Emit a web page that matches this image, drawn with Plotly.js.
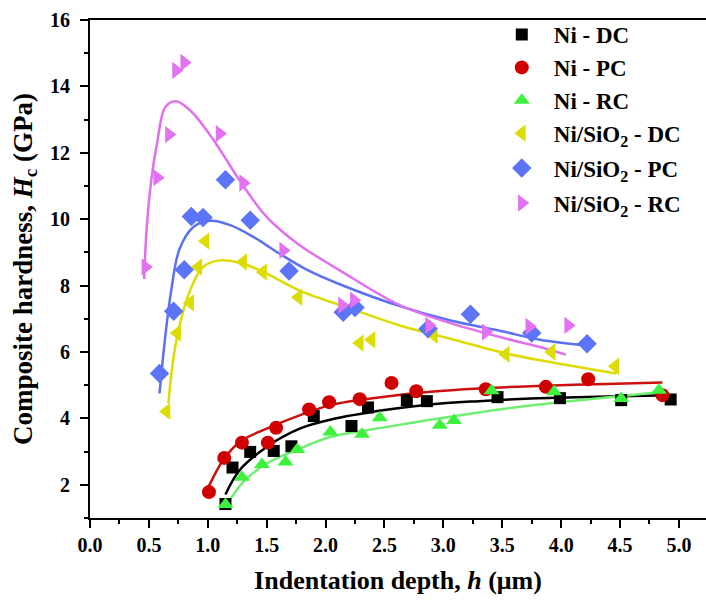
<!DOCTYPE html>
<html>
<head>
<meta charset="utf-8">
<script src="https://cdn.plot.ly/plotly-3.0.1.min.js"></script>
<style>html,body{margin:0;padding:0;background:#fff;}#chart{width:706px;height:601px;}</style>
</head>
<body>
<div id="chart"></div>
<script>
// Measured points (indentation depth h in µm, composite hardness Hc in GPa)
var niDC_h = [1.15,1.21,1.36,1.56,1.71,1.90,2.22,2.36,2.69,2.86,3.46,3.99,4.51,4.93];
var niDC_H = [1.42,2.52,2.99,3.02,3.16,4.07,3.77,4.33,4.55,4.52,4.64,4.61,4.55,4.57];
var niPC_h = [1.01,1.14,1.29,1.51,1.58,1.86,2.03,2.29,2.56,2.77,3.36,3.87,4.23,4.86];
var niPC_H = [1.78,2.81,3.27,3.27,3.72,4.27,4.49,4.58,5.07,4.82,4.88,4.95,5.18,4.70];
var niRC_h = [1.15,1.29,1.46,1.66,1.76,2.04,2.31,2.46,2.97,3.09,3.41,3.94,4.51,4.83];
var niRC_H = [1.41,2.23,2.61,2.69,3.06,3.59,3.52,4.02,3.79,3.94,4.83,4.80,4.60,4.85];
var siDC_h = [0.65,0.74,0.85,0.92,0.98,1.30,1.47,1.77,2.29,2.39,2.92,3.53,3.92,4.46];
var siDC_H = [4.21,6.57,7.48,8.56,9.34,8.71,8.41,7.65,6.27,6.37,6.50,5.93,6.00,5.57];
var siPC_h = [0.59,0.71,0.80,0.86,0.96,1.15,1.36,1.69,2.15,2.25,2.87,3.23,3.75,4.22];
var siPC_H = [5.35,7.23,8.48,10.08,10.05,11.19,9.97,8.44,7.20,7.34,6.70,7.14,6.57,6.25];
var siRC_h = [0.47,0.57,0.67,0.73,0.80,1.10,1.30,1.64,2.14,2.24,2.88,3.36,3.73,4.06];
var siRC_H = [8.56,11.25,12.55,14.48,14.72,12.58,11.09,9.06,7.41,7.56,6.80,6.60,6.77,6.80];

// Fitted curves
var fitNiDC_h = [1.15,1.27,1.50,1.78,2.04,2.50,2.89,3.30,3.74,4.30,4.90];
var fitNiDC_H = [1.71,2.44,3.14,3.69,3.96,4.25,4.42,4.52,4.60,4.65,4.70];
var fitNiPC_h = [1.005,1.13,1.27,1.50,1.78,2.04,2.50,2.89,3.30,3.74,4.30,4.86];
var fitNiPC_H = [1.93,2.74,3.29,3.69,4.09,4.40,4.65,4.80,4.90,4.97,5.03,5.08];
var fitNiRC_h = [1.15,1.30,1.50,1.78,2.04,2.50,2.89,3.30,3.74,4.30,4.83];
var fitNiRC_H = [1.33,2.08,2.64,3.09,3.44,3.73,3.96,4.18,4.39,4.60,4.79];
var fitSiDC_h = [0.665,0.70,0.75,0.85,0.96,1.10,1.30,1.50,1.78,2.21,2.63,3.06,3.48,3.82,4.47];
var fitSiDC_H = [4.45,5.60,6.65,7.86,8.56,8.76,8.66,8.36,7.85,7.31,6.80,6.40,6.00,5.75,5.35];
var fitSiPC_h = [0.59,0.64,0.69,0.76,0.88,1.02,1.19,1.39,1.61,1.84,2.12,2.63,3.06,3.48,3.82,4.22];
var fitSiPC_H = [4.75,6.50,7.86,9.10,9.77,9.95,9.82,9.46,8.96,8.48,8.04,7.38,6.95,6.64,6.37,6.20];
var fitSiRC_h = [0.46,0.48,0.52,0.57,0.64,0.73,0.85,1.05,1.27,1.50,1.76,2.12,2.63,3.06,3.48,3.82,4.04];
var fitSiRC_H = [8.20,9.67,11.17,12.30,13.38,13.55,13.28,12.38,11.17,10.07,9.27,8.46,7.41,6.87,6.45,6.15,5.92];

var names = ['Ni - DC','Ni - PC','Ni - RC','Ni/SiO<sub>2</sub> - DC','Ni/SiO<sub>2</sub> - PC','Ni/SiO<sub>2</sub> - RC'];
var groups = ['a','a','a','a','b','c'];

var series = [
  {h:niDC_h,H:niDC_H,fh:fitNiDC_h,fH:fitNiDC_H,sym:'square',size:12,mc:'#000000',lc:'#000000'},
  {h:niPC_h,H:niPC_H,fh:fitNiPC_h,fH:fitNiPC_H,sym:'circle',size:14,mc:'#d00000',lc:'#cc1010'},
  {h:niRC_h,H:niRC_H,fh:fitNiRC_h,fH:fitNiRC_H,sym:'triangle-up',size:14,mc:'#3cf23c',lc:'#70ee70'},
  {h:siDC_h,H:siDC_H,fh:fitSiDC_h,fH:fitSiDC_H,sym:'triangle-left',size:15,mc:'#dcdc00',lc:'#dcdc00'},
  {h:siPC_h,H:siPC_H,fh:fitSiPC_h,fH:fitSiPC_H,sym:'diamond',size:15,mc:'#5c74f6',lc:'#5c70f2'},
  {h:siRC_h,H:siRC_H,fh:fitSiRC_h,fH:fitSiRC_H,sym:'triangle-right',size:15,mc:'#e272f2',lc:'#e070ee'}
];

var traces = [];
series.forEach(function(s){
  traces.push({x:s.fh,y:s.fH,mode:'lines',line:{color:s.lc,width:2.5,shape:'spline',smoothing:1},showlegend:false,hoverinfo:'skip'});
});
series.forEach(function(s,i){
  traces.push({x:s.h,y:s.H,mode:'markers',name:names[i],legendgroup:groups[i],marker:{symbol:s.sym,size:s.size,color:s.mc,line:{width:0}}});
});

var font = 'Liberation Serif, Times New Roman, serif';
var layout = {
  width:706, height:601,
  margin:{l:90,r:0,t:20,b:83},
  paper_bgcolor:'#fff', plot_bgcolor:'#fff',
  font:{family:font,color:'#000'},
  showlegend:true,
  legend:{x:0.649,y:1.014,xanchor:'left',yanchor:'top',bgcolor:'rgba(0,0,0,0)',font:{family:font,size:23,color:'#000',weight:'bold'},itemwidth:54,traceorder:'grouped',tracegroupgap:2},
  xaxis:{range:[0,5.23],dtick:0.5,tick0:0,tickformat:'.1f',showgrid:false,zeroline:false,
    showline:true,linewidth:2,linecolor:'#000',mirror:true,
    ticks:'outside',ticklen:8,tickwidth:2,tickcolor:'#000',
    minor:{dtick:0.25,ticks:'outside',ticklen:4,tickwidth:2,tickcolor:'#000',showgrid:false},
    tickfont:{family:font,size:20,weight:'bold'},
    title:{text:'Indentation depth, <i>h</i> (μm)',font:{family:font,size:26,weight:'bold'},standoff:16}},
  yaxis:{range:[1,16],dtick:2,tick0:0,showgrid:false,zeroline:false,
    showline:true,linewidth:2,linecolor:'#000',mirror:false,
    ticks:'outside',ticklen:8,tickwidth:2,tickcolor:'#000',
    minor:{dtick:1,ticks:'outside',ticklen:4,tickwidth:2,tickcolor:'#000',showgrid:false},
    tickfont:{family:font,size:20,weight:'bold'},ticklabelstandoff:6,
    title:{text:'Composite hardness, <i>H</i><sub>c</sub> (GPa)',font:{family:font,size:27,weight:'bold'},standoff:10}}
};

Plotly.newPlot('chart',traces,layout,{displayModeBar:false,staticPlot:true});
</script>
</body>
</html>
